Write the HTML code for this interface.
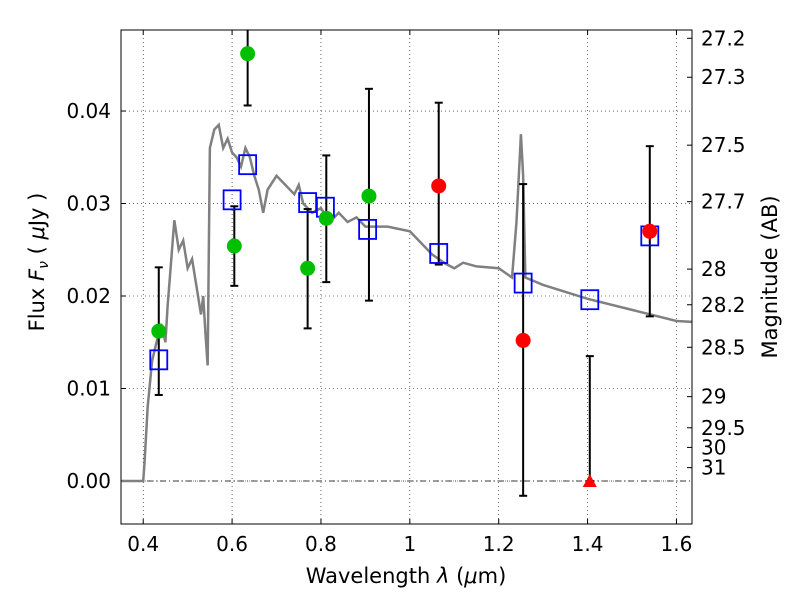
<!DOCTYPE html>
<html><head><meta charset="utf-8"><style>
html,body{margin:0;padding:0;background:#fff;}
svg{display:block;font-family:"DejaVu Sans","Liberation Sans",sans-serif;}
</style></head><body>
<svg id="chart" width="800" height="600"></svg>
<script>
const xTicks=[0.4,0.6,0.8,1.0,1.2,1.4,1.6];
const xTickLabels=["0.4","0.6","0.8","1","1.2","1.4","1.6"];
const yTicks=[0.00,0.01,0.02,0.03,0.04];
const yTickLabels=["0.00","0.01","0.02","0.03","0.04"];
const magTicks=[27.2,27.3,27.5,27.7,28,28.2,28.5,29,29.5,30,31];
const specX=[0.35,0.40,0.403,0.41,0.42,0.43,0.44,0.45,0.455,0.46,0.47,0.48,0.49,0.50,0.51,0.52,0.53,0.535,0.54,0.545,0.55,0.56,0.57,0.58,0.59,0.60,0.61,0.62,0.63,0.64,0.65,0.66,0.67,0.68,0.70,0.72,0.74,0.75,0.76,0.78,0.80,0.82,0.84,0.86,0.88,0.90,0.95,1.0,1.02,1.05,1.08,1.10,1.12,1.15,1.20,1.23,1.24,1.25,1.255,1.26,1.30,1.40,1.50,1.60,1.635];
const specY=[0,0,0.002,0.008,0.013,0.015,0.017,0.015,0.019,0.022,0.0282,0.025,0.026,0.023,0.024,0.021,0.018,0.020,0.016,0.0125,0.036,0.038,0.0385,0.036,0.037,0.0355,0.035,0.034,0.036,0.035,0.033,0.0315,0.029,0.0315,0.033,0.032,0.031,0.032,0.030,0.029,0.0295,0.028,0.029,0.028,0.0285,0.0275,0.0275,0.027,0.026,0.0245,0.0235,0.023,0.0236,0.0232,0.023,0.022,0.028,0.0375,0.033,0.022,0.0212,0.0197,0.0185,0.0173,0.0172];
const errX=[0.435,0.605,0.635,0.77,0.812,0.908,1.065,1.255,1.405,1.54];
const errLo=[0.0093,0.0211,0.0406,0.0165,0.0215,0.0195,0.0234,-0.0016,0.0,0.0178];
const errHi=[0.0231,0.0297,0.055,0.0294,0.0352,0.0424,0.0409,0.0321,0.0135,0.0362];
const greenX=[0.435,0.605,0.635,0.77,0.812,0.908];
const greenY=[0.0162,0.0254,0.0462,0.0230,0.0284,0.0308];
const redX=[1.065,1.255,1.54];
const redY=[0.0319,0.0152,0.0270];
const triX=[1.405];
const triY=[0.0];
const sqX=[0.435,0.60,0.635,0.77,0.81,0.905,1.065,1.255,1.405,1.54];
const sqY=[0.0131,0.0304,0.0342,0.0301,0.0296,0.0272,0.0246,0.0214,0.0196,0.0265];

const L=121,R=692,T=30,B=524;
const X0=0.35,X1=1.635,Y0=-0.00465,Y1=0.04876;
const sx=v=>L+(v-X0)/(X1-X0)*(R-L);
const sy=v=>B-(v-Y0)/(Y1-Y0)*(B-T);
const NS="http://www.w3.org/2000/svg";
const svg=document.getElementById('chart');
function mk(tag,attrs,parent){const e=document.createElementNS(NS,tag);for(const k in attrs)e.setAttribute(k,attrs[k]);(parent||svg).appendChild(e);return e;}
const defs=mk('defs',{});const cp=mk('clipPath',{id:'clip'},defs);mk('rect',{x:L,y:T,width:R-L,height:B-T},cp);

xTicks.forEach((v,i)=>{
  const g=mk('line',{x1:sx(v),x2:sx(v),y1:T,y2:B,stroke:'#000','stroke-width':0.6,'stroke-dasharray':'1,3'});
  
  
  mk('line',{x1:sx(v),x2:sx(v),y1:B,y2:B-5,stroke:'#000'});
  mk('line',{x1:sx(v),x2:sx(v),y1:T,y2:T+5,stroke:'#000'});
  const t=mk('text',{x:sx(v),y:B+27,'font-size':20,'text-anchor':'middle'});t.textContent=xTickLabels[i];
  
  
});
yTicks.forEach((v,i)=>{
  const g=mk('line',{x1:L,x2:R,y1:sy(v),y2:sy(v),stroke:'#000','stroke-width':0.6,'stroke-dasharray':'1,3'});
  
  
  mk('line',{x1:L,x2:L+5,y1:sy(v),y2:sy(v),stroke:'#000'});
  const t=mk('text',{x:L-10,y:sy(v)+7,'font-size':20,'text-anchor':'end'});t.textContent=yTickLabels[i];
  
  
});
magTicks.forEach(m=>{
  const f=Math.pow(10,(23.9-m)/2.5);const y=sy(f);
  mk('line',{x1:R-5,x2:R,y1:y,y2:y,stroke:'#000'});
  const t=mk('text',{x:R+9,y:y+7,'font-size':20});t.textContent=String(m);
  
  
});
mk('line',{x1:L,x2:R,y1:sy(0),y2:sy(0),stroke:'#000','stroke-width':0.7,'stroke-dasharray':'6,3,1,3'});

const gc=mk('g',{'clip-path':'url(#clip)'});
const sp=mk('polyline',{points:specX.map((x,i)=>sx(x)+','+sy(specY[i])).join(' '),fill:'none',stroke:'#808080','stroke-width':2.5},gc);


errX.forEach((x,i)=>{
  const g=mk('g',{},gc);
  
  
  mk('line',{x1:sx(x),x2:sx(x),y1:sy(errLo[i]),y2:sy(errHi[i]),stroke:'#000','stroke-width':2},g);
  mk('line',{x1:sx(x)-4,x2:sx(x)+4,y1:sy(errLo[i]),y2:sy(errLo[i]),stroke:'#000','stroke-width':2},g);
  mk('line',{x1:sx(x)-4,x2:sx(x)+4,y1:sy(errHi[i]),y2:sy(errHi[i]),stroke:'#000','stroke-width':2},g);
});
sqX.forEach((x,i)=>{
  const r=mk('rect',{x:sx(x)-8.5,y:sy(sqY[i])-9.5,width:17,height:19,fill:'none',stroke:'#0000ff','stroke-width':1.8},gc);
  
  
});
greenX.forEach((x,i)=>{
  const c=mk('circle',{cx:sx(x),cy:sy(greenY[i]),r:7.5,fill:'#00bf00'},gc);
  
  
});
redX.forEach((x,i)=>{
  const c=mk('circle',{cx:sx(x),cy:sy(redY[i]),r:7.5,fill:'#ff0000'},gc);
  
  
});
triX.forEach((x,i)=>{
  const X=sx(x),Y=sy(triY[i]);
  const p=mk('polygon',{points:`${X},${Y-7} ${X-7},${Y+6} ${X+7},${Y+6}`,fill:'#ff0000'});
  
  
});
const fr=mk('rect',{x:L,y:T,width:R-L,height:B-T,fill:'none',stroke:'#000','stroke-width':1});



const xt=mk('text',{x:406,y:583,'font-size':21,'text-anchor':'middle'});
xt.innerHTML='Wavelength  <tspan font-style="italic">λ</tspan> (<tspan font-style="italic">μ</tspan>m)';


const yt=mk('text',{x:0,y:0,'font-size':21,'text-anchor':'middle',transform:'translate(44,262) rotate(-90)'});
yt.innerHTML='Flux  <tspan font-style="italic">F</tspan><tspan font-style="italic" font-size="14" dy="4">ν</tspan><tspan dy="-4">  ( </tspan><tspan font-style="italic">μ</tspan>Jy )';


const rt=mk('text',{x:0,y:0,'font-size':21,'text-anchor':'middle',transform:'translate(777,277) rotate(-90)'});
rt.textContent='Magnitude (AB)';


</script>
</body></html>
